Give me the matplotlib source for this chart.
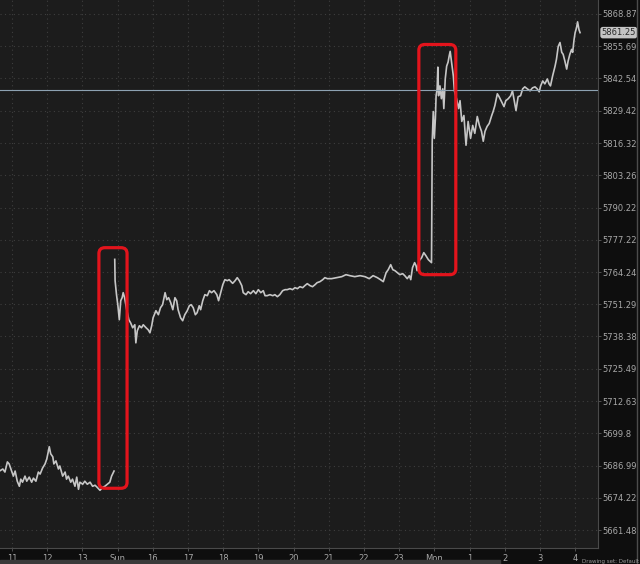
import matplotlib.pyplot as plt
from matplotlib.patches import FancyBboxPatch, Rectangle
from matplotlib.lines import Line2D
from matplotlib.ticker import FixedLocator, FixedFormatter, NullLocator

# session hours counted from 11:00 Friday, weekend gap removed
fri_t = [-0.34, -0.26, -0.20, -0.13, -0.08, -0.01, 0.04, 0.09, 0.15, 0.21, 0.25, 0.30,
         0.37, 0.42, 0.49, 0.56, 0.61, 0.68, 0.75, 0.80, 0.87, 0.94, 0.99, 1.06, 1.10,
         1.16, 1.19, 1.25, 1.32, 1.36, 1.44, 1.51, 1.55, 1.60, 1.67, 1.72, 1.79, 1.84,
         1.89, 1.93, 2.01, 2.07, 2.14, 2.22, 2.29, 2.36, 2.42, 2.50, 2.58, 2.64, 2.71,
         2.78, 2.83, 2.90]
fri_p = [5684.92, 5685.61, 5684.40, 5688.42, 5687.62, 5684.80, 5682.79, 5684.80, 5680.78,
         5678.77, 5681.59, 5680.38, 5682.79, 5680.78, 5682.39, 5680.38, 5681.99, 5680.78,
         5684.40, 5683.60, 5686.01, 5687.62, 5689.63, 5694.45, 5691.64, 5690.43, 5687.62,
         5688.82, 5685.61, 5686.81, 5682.79, 5684.40, 5681.59, 5682.79, 5680.38, 5681.59,
         5678.77, 5682.39, 5677.57, 5680.38, 5679.58, 5680.78, 5679.58, 5680.38, 5678.77,
         5679.18, 5678.37, 5677.17, 5678.37, 5678.77, 5679.58, 5680.38, 5682.79, 5684.80]

sun_t = [2.92, 2.93, 2.97, 3.01, 3.05, 3.09, 3.13, 3.16, 3.20, 3.26, 3.32, 3.37, 3.43,
         3.49, 3.52, 3.56, 3.62, 3.68, 3.73, 3.81, 3.87, 3.92, 3.97, 4.01, 4.09, 4.16,
         4.22, 4.28, 4.35, 4.40, 4.45, 4.51, 4.57, 4.63, 4.68, 4.72, 4.79, 4.85, 4.91,
         4.98, 5.04, 5.09, 5.15, 5.21, 5.26, 5.32, 5.36, 5.42, 5.48, 5.55, 5.61, 5.67,
         5.74, 5.82, 5.87, 5.93, 5.99, 6.05, 6.12, 6.17, 6.27, 6.34, 6.40, 6.46, 6.53,
         6.57, 6.65, 6.71, 6.78, 6.86, 6.93, 7.00, 7.07, 7.14, 7.19, 7.25, 7.33, 7.41,
         7.47, 7.54, 7.61, 7.69, 7.76, 7.82, 7.90, 7.97, 8.04, 8.11, 8.18, 8.26, 8.32,
         8.39, 8.47, 8.54, 8.61, 8.67, 8.75, 8.83, 8.89, 8.96, 9.08, 9.22, 9.37, 9.49,
         9.60, 9.74, 9.89, 10.03, 10.15, 10.26, 10.38, 10.47, 10.55, 10.63, 10.69, 10.76,
         10.82, 10.88, 10.95, 11.02, 11.10, 11.16, 11.23, 11.29, 11.33, 11.38, 11.44,
         11.48, 11.51, 11.57, 11.64, 11.70, 11.76, 11.83, 11.92,
         11.94, 11.97, 12.00, 12.03, 12.05, 12.08, 12.10, 12.12, 12.16, 12.20, 12.24,
         12.27, 12.31, 12.35, 12.39, 12.42, 12.45, 12.49, 12.54, 12.57, 12.63, 12.69,
         12.73, 12.78, 12.84, 12.90, 12.96, 13.03, 13.09, 13.15, 13.22, 13.28, 13.34,
         13.39, 13.44, 13.50, 13.56, 13.63, 13.67, 13.72, 13.79, 13.84, 13.91, 13.98,
         14.03, 14.10, 14.17, 14.22, 14.26, 14.32, 14.38, 14.45, 14.51, 14.57, 14.64,
         14.72, 14.79, 14.86, 14.92, 14.98, 15.02, 15.08, 15.14, 15.21, 15.26, 15.30,
         15.36, 15.43, 15.47, 15.52, 15.57, 15.62, 15.66, 15.71, 15.76, 15.80, 15.85,
         15.90, 15.93, 15.97, 16.00, 16.04, 16.07, 16.11, 16.14]
sun_p = [5769.32, 5760.76, 5755.14, 5750.71, 5745.09, 5752.72, 5753.93, 5755.94, 5753.93,
         5749.11, 5745.09, 5743.88, 5741.87, 5743.08, 5735.84, 5740.67, 5742.68, 5741.87,
         5743.08, 5741.87, 5741.07, 5739.86, 5742.68, 5745.89, 5748.71, 5747.10, 5749.91,
         5751.12, 5755.94, 5753.13, 5753.93, 5751.92, 5749.11, 5753.93, 5752.72, 5749.11,
         5745.89, 5744.69, 5747.10, 5748.71, 5750.71, 5751.12, 5749.91, 5747.10, 5747.90,
         5750.71, 5749.11, 5752.72, 5755.14, 5754.73, 5756.74, 5755.94, 5756.74, 5755.14,
         5752.72, 5755.94, 5759.15, 5761.16, 5760.76, 5761.16, 5759.68, 5760.76, 5761.97,
         5760.76, 5758.75, 5755.94, 5755.14, 5756.34, 5755.54, 5756.74, 5755.54, 5757.15,
         5755.94, 5756.74, 5754.73, 5754.73, 5755.14, 5754.73, 5755.14, 5754.33, 5755.14,
         5756.74, 5757.15, 5757.15, 5757.55, 5757.15, 5757.95, 5757.55, 5758.35, 5757.95,
         5758.75, 5759.56, 5758.75, 5758.35, 5759.15, 5759.96, 5760.36, 5761.16, 5761.97,
         5761.57, 5761.57, 5761.97, 5762.37, 5763.17, 5762.77, 5762.37, 5762.77, 5762.37,
         5761.57, 5762.77, 5761.97, 5761.16, 5760.36, 5763.98, 5765.18, 5767.19, 5765.18,
         5764.78, 5763.98, 5763.17, 5763.58, 5762.77, 5761.57, 5762.77, 5761.16, 5765.99,
         5768.00, 5766.79, 5764.78, 5768.80, 5770.01, 5772.02, 5770.81, 5769.20, 5768.00,
         5817.03, 5829.09, 5818.23, 5826.27, 5835.52, 5838.33, 5847.17, 5835.52, 5839.53,
         5834.31, 5838.33, 5830.29, 5842.35, 5847.57, 5849.18, 5851.59, 5853.60, 5849.18,
         5843.55, 5837.53, 5834.31, 5830.29, 5833.51, 5825.07, 5827.48, 5815.42, 5825.07,
         5818.23, 5823.46, 5820.24, 5827.08, 5823.46, 5821.05, 5817.03, 5821.05, 5823.06,
         5824.26, 5827.48, 5829.09, 5831.50, 5836.32, 5835.11, 5833.10, 5831.09, 5833.51,
         5834.31, 5835.52, 5837.53, 5834.31, 5829.49, 5835.11, 5835.52, 5838.33, 5839.13,
         5838.33, 5837.53, 5838.73, 5839.13, 5838.33, 5837.12, 5839.53, 5841.54, 5840.34,
         5842.35, 5840.34, 5839.53, 5843.55, 5847.57, 5850.39, 5855.61, 5857.22, 5853.20,
         5852.40, 5849.58, 5846.37, 5849.58, 5852.40, 5854.40, 5853.20, 5858.42, 5861.24,
         5863.25, 5865.66, 5862.44, 5861.24]

price_ticks = [5868.87, 5855.69, 5842.54, 5829.42, 5816.32, 5803.26, 5790.22, 5777.22,
               5764.24, 5751.29, 5738.38, 5725.49, 5712.63, 5699.8, 5686.99, 5674.22, 5661.48]
time_ticks = list(range(17))
time_labels = ['11', '12', '13', 'Sun', '16', '17', '18', '19', '20', '21', '22', '23',
               'Mon', '1', '2', '3', '4']

last_price = 5861.25
ref_level = 5837.93
# highlighted windows: (t0, t1, p_low, p_high)
boxes = [(2.47, 3.27, 5677.97, 5774.02), (11.56, 12.61, 5763.17, 5856.41)]

W, H = 640, 564
fig = plt.figure(figsize=(W / 100, H / 100), dpi=100, facecolor='#0e0e0e')
ax = fig.add_axes([0, 16 / H, 598 / W, 548 / H])
ax.set_facecolor('#1c1c1c')

ax.plot(fri_t, fri_p, color='#c6c6c6', lw=1.2)
ax.plot(sun_t, sun_p, color='#c6c6c6', lw=1.2)
ax.axhline(ref_level, color='#8da2b2', lw=0.8)

for t0, t1, lo, hi in boxes:
    ax.add_patch(FancyBboxPatch((t0, lo), t1 - t0, hi - lo,
                                boxstyle='round,pad=0,rounding_size=0.17',
                                mutation_aspect=14, fill=False,
                                edgecolor='#e3141c', lw=2.3, zorder=5))

ax.set_yscale('log')
ax.set_ylim(5654.38, 5874.60)
ax.set_xlim(-0.34, 16.65)

ax.yaxis.set_major_locator(FixedLocator(price_ticks))
ax.yaxis.set_major_formatter(FixedFormatter([f'{v:g}' for v in price_ticks]))
ax.yaxis.set_minor_locator(NullLocator())
ax.yaxis.tick_right()
ax.set_xticks(time_ticks)
ax.set_xticklabels(time_labels)
ax.tick_params(axis='both', colors='#5a5a5a', labelcolor='#a8a8a8', labelsize=6,
               length=2, width=0.6)
ax.tick_params(axis='y', pad=1)
ax.tick_params(axis='x', pad=2)

ax.grid(True, color='#3e3e3e', linestyle=(0, (1, 3)), lw=0.8)
for s in ['top', 'left']:
    ax.spines[s].set_visible(False)
for s in ['right', 'bottom']:
    ax.spines[s].set_color('#4a4a4a')
    ax.spines[s].set_linewidth(0.8)

ax.text(1.006, last_price, f'{last_price:.2f}', transform=ax.get_yaxis_transform(),
        fontsize=6, color='#2a2a2a', va='center', ha='left',
        bbox=dict(boxstyle='round,pad=0.15,rounding_size=0.3', fc='#c4c4c4', ec='none'))

# status bar strip at the very bottom
fig.patches.append(Rectangle((0, 0), 500 / W, 4 / H, transform=fig.transFigure,
                             color='#3a3a3a'))
fig.text(582 / W, 0.2 / H, 'Drawing set: Default', fontsize=4, color='#9a9a9a',
         va='bottom', ha='left')
fig.add_artist(Line2D([637 / W, 637 / W], [0, 1], transform=fig.transFigure,
                      color='#4c4c4c', lw=1))

fig.savefig('out.png', dpi=100, facecolor=fig.get_facecolor())
